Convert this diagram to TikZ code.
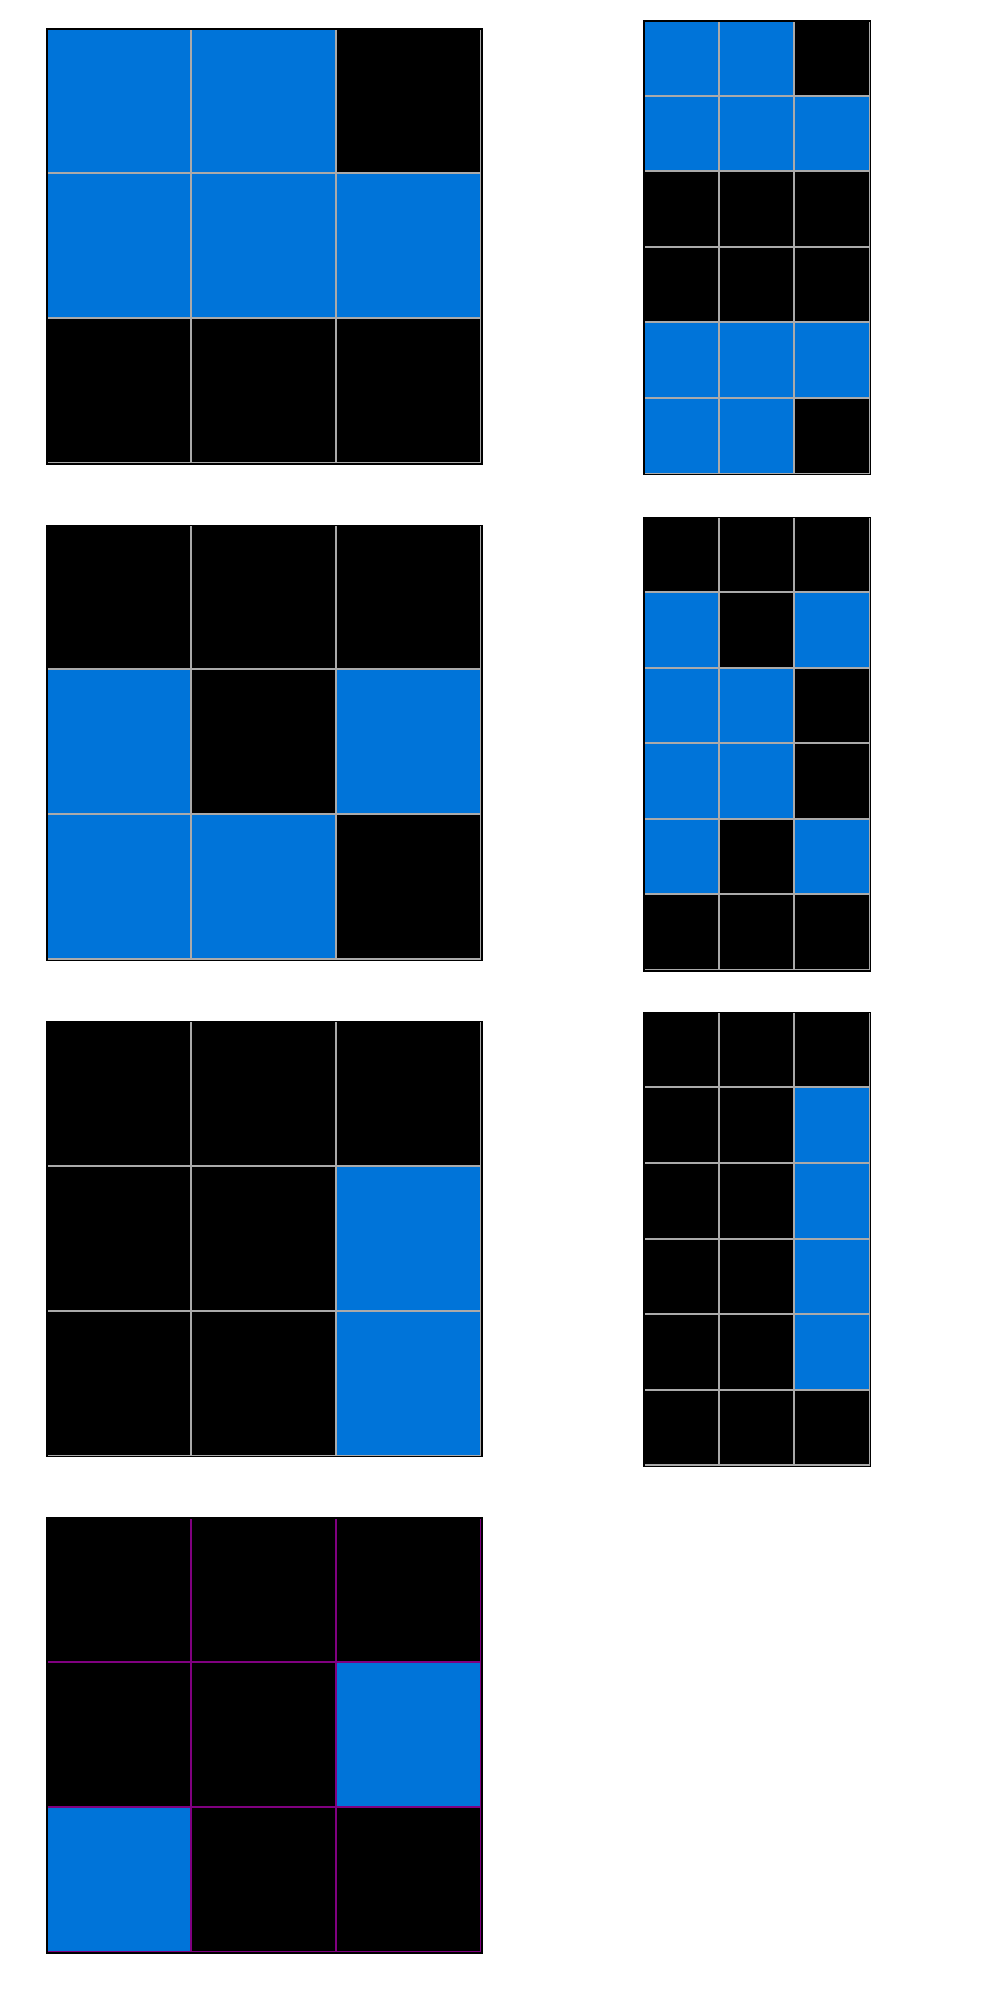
\documentclass[tikz,border=0pt]{standalone}
\usepackage{tikz}
\definecolor{arcblue}{HTML}{0074D9}
\definecolor{arcgrey}{HTML}{AAAAAA}
\definecolor{arcpurple}{HTML}{800080}
\colorlet{blu}{arcblue}
\colorlet{blk}{black}
% #1 left, #2 top, #3 cell, #4 cols, #5 rows, #6 line colour, #7 cells row by row
\newcommand\arcgrid[7]{%
  \foreach \row [count=\i from 0] in {#7} {
    \foreach \c [count=\j from 0] in \row {
      \fill[\c] (#1+\j*#3, #2+\i*#3) rectangle ++(#3, #3);
    }
  }
  \foreach \j in {1,...,#4}
    \draw[cellline, #6] (#1+\j*#3-1, #2) -- ++(0, #5*#3);
  \foreach \i in {1,...,#5}
    \draw[cellline, #6] (#1, #2+\i*#3-1) -- ++(#4*#3, 0);
  \draw[gridborder] (#1, #2) rectangle ++(#4*#3, #5*#3);
}

\begin{document}
\begin{tikzpicture}[x = 1pt, y = -1pt,
    cellline/.style = {line width = 2pt},
    gridborder/.style = {draw = black, line width = 1.2pt}]
  \useasboundingbox[fill = white] (0, 0) rectangle (1000, 2000);

  \arcgrid{47}{29}{145}{3}{3}{arcgrey}{{blu,blu,blk},{blu,blu,blu},{blk,blk,blk}}
  \arcgrid{47}{525.3}{145}{3}{3}{arcgrey}{{blk,blk,blk},{blu,blk,blu},{blu,blu,blk}}
  \arcgrid{47}{1021.7}{145}{3}{3}{arcgrey}{{blk,blk,blk},{blk,blk,blu},{blk,blk,blu}}
  \arcgrid{47}{1518}{145}{3}{3}{arcpurple}{{blk,blk,blk},{blk,blk,blu},{blu,blk,blk}}

  \arcgrid{644}{21}{75.6}{3}{6}{arcgrey}{{blu,blu,blk},{blu,blu,blu},{blk,blk,blk},{blk,blk,blk},{blu,blu,blu},{blu,blu,blk}}
  \arcgrid{644}{517.3}{75.6}{3}{6}{arcgrey}{{blk,blk,blk},{blu,blk,blu},{blu,blu,blk},{blu,blu,blk},{blu,blk,blu},{blk,blk,blk}}
  \arcgrid{644}{1012.7}{75.6}{3}{6}{arcgrey}{{blk,blk,blk},{blk,blk,blu},{blk,blk,blu},{blk,blk,blu},{blk,blk,blu},{blk,blk,blk}}
\end{tikzpicture}
\end{document}
